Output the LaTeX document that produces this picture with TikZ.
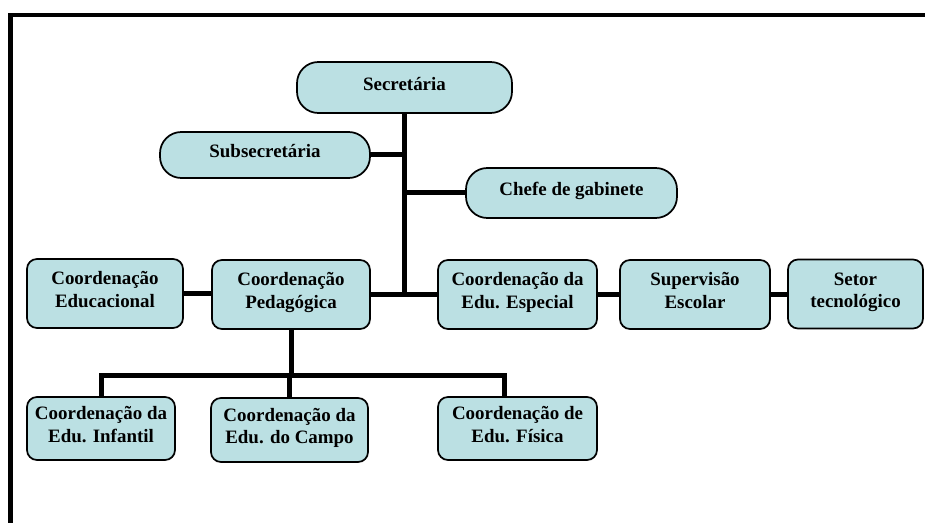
\documentclass[tikz,border=0pt]{standalone}
\usepackage{fontspec}
\setmainfont{Liberation Serif}
\usepackage{xcolor}
\usepackage{tikz}
\definecolor{boxfill}{RGB}{187,224,227}

\begin{document}
\begin{tikzpicture}[x=0.75pt, y=-0.75pt,
    font=\bfseries\fontsize{14.2}{16.8}\selectfont, align=center,
    unit/.style={rectangle, draw, line width=1.3pt, fill=boxfill, inner sep=2pt,
      execute at end node={\rule[-6pt]{0pt}{6pt}}},
    pill/.style={unit, rounded corners=16pt},
    box/.style={unit, rounded corners=7.5pt, minimum height=51.75pt},
    link/.style={line width=3.75pt}
    ]

    \useasboundingbox (0,0) rectangle (925,523);
    \draw[line width=3.2pt] (10.5,530) -- (10.5,15.3) -- (930,15.3);

    \node[pill, minimum width=161.25pt, minimum height=38.25pt] (sec) at (404.5,87.5)  {Secretária};
    \node[pill, minimum width=157.5pt,  minimum height=34.5pt]  (sub) at (265,155)     {Subsecretária};
    \node[pill, minimum width=158.25pt, minimum height=37.5pt]  (chf) at (571.5,193)   {Chefe de gabinete};

    \node[box, minimum width=117pt]    (edu) at (105,293.5)   {Coordenação\\ Educacional};
    \node[box, minimum width=118.5pt]  (ped) at (291,294.5)   {Coordenação\\ Pedagógica};
    \node[box, minimum width=119.25pt] (esp) at (517.5,294.5) {Coordenação da\\ Edu. Especial};
    \node[box, minimum width=112.5pt]  (sup) at (695,294.5)   {Supervisão\\ Escolar};
    \node[box, minimum width=101.25pt] (set) at (855.5,294)   {Setor\\ tecnológico};

    \node[box, minimum width=111pt,    minimum height=47.25pt] (inf) at (101,428.5)   {Coordenação da\\ Edu. Infantil};
    \node[box, minimum width=117.75pt, minimum height=48pt]    (cam) at (289.5,430)   {Coordenação da\\ Edu. do Campo};
    \node[box, minimum width=119.25pt, minimum height=47.25pt] (fis) at (517.5,428.5) {Coordenação de\\ Edu. Física};

    \coordinate (barL) at (101,376);
    \coordinate (barR) at (504,376);

    \draw[link] (sec.south) -- (sec.south |- ped.east);
    \draw[link] (sub.east) -- (sub.east -| sec.south);
    \draw[link] (chf.west) -- (chf.west -| sec.south);
    \draw[link] (edu.east) -- (edu.east -| ped.west);
    \draw[link] (ped.east) -- (esp.west);
    \draw[link] (esp.east) -- (sup.west);
    \draw[link] (sup.east) -- (sup.east -| set.west);
    \draw[link] (ped.south) -- (ped.south |- barL);
    \draw[link] (inf.north) -- (barL) -- (barR) -- (barR |- fis.north);
    \draw[link] (cam.north) -- (cam.north |- barL);
  \end{tikzpicture}
\end{document}
